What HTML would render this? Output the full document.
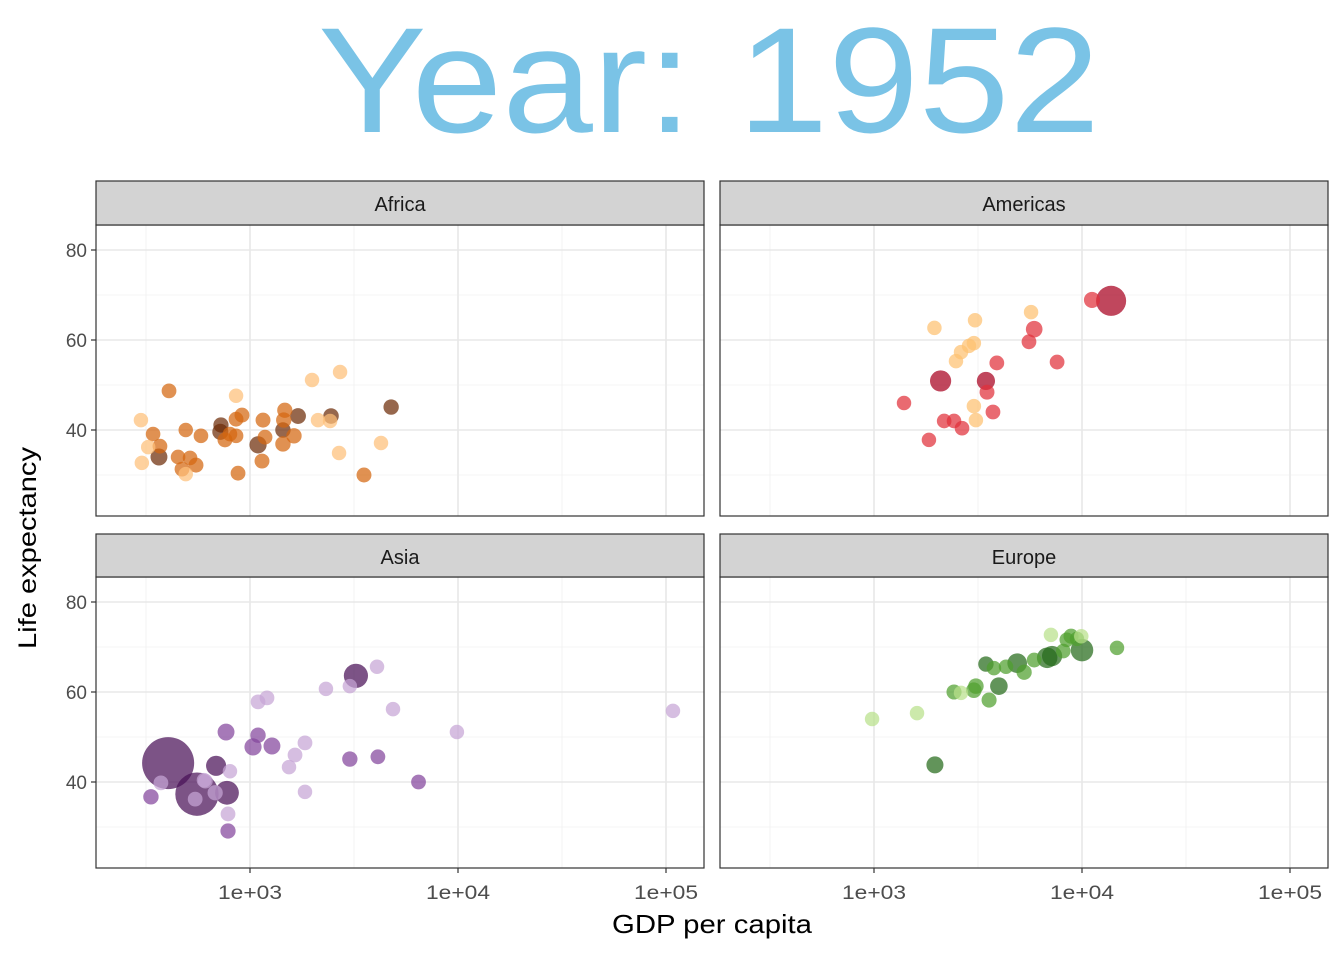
<!DOCTYPE html>
<html><head><meta charset="utf-8"><style>
body{margin:0;background:#fff;}
svg{display:block;font-family:"Liberation Sans",Arial,sans-serif;}
</style></head><body>
<svg id="chart" width="1344" height="960" xmlns="http://www.w3.org/2000/svg">
<text x="709" y="132" text-anchor="middle" font-size="150" textLength="782" lengthAdjust="spacingAndGlyphs" fill="#7ac3e6">Year: 1952</text>
<text x="712" y="933" text-anchor="middle" font-size="26" textLength="200" lengthAdjust="spacingAndGlyphs" fill="#000">GDP per capita</text>
<text transform="translate(36,548) rotate(-90)" text-anchor="middle" font-size="25" textLength="202" lengthAdjust="spacingAndGlyphs" fill="#000">Life expectancy</text>
</svg>
<script>
const xTicks=[1e3,1e4,1e5];
const xTickLabels=["1e+03","1e+04","1e+05"];
const yTicks=[40,60,80];
const yTickLabels=["40","60","80"];
// Africa
const afGdp=[299,342,324,302,369,365,408,451,471,491,515,491,550,581,725,758,720,801,857,915,857,876,857,1093,1155,1142,1181,1440,1453,1470,1440,1702,1627,1987,2123,2452,2427,2710,2680,3532,4264,4770];
const afLife=[42.2,39.1,36.2,32.7,36.4,34.0,48.7,34.0,31.3,40,33.8,30.2,32.2,38.7,41.1,37.8,39.6,39.1,42.4,43.3,47.6,30.4,38.7,36.7,42.2,33.1,38.4,40,42.2,44.4,36.9,43.1,38.7,51.1,42.2,43.1,42,52.9,34.9,30,37.1,45.1];
const afPop=[3,4,3,3,5,20,5,4,5,3,4,3,6,4,8,6,14,4,5,6,3,5,4,22,6,6,5,9,9,8,9,12,9,3,3,10,3,3,3,6,3,9];
const afShade=[0,1,0,0,1,2,1,1,1,1,1,0,1,1,2,1,2,1,1,1,0,1,1,2,1,1,1,2,1,1,1,2,1,0,0,2,0,0,0,1,0,2];
// Americas
const amGdp=[1394,1837,1952,2090,2174,2425,2478,2620,2650,2862,3021,3060,3021,3090,3452,3494,3732,3895,5560,5690,5890,7590,11170,13800];
const amLife=[46,37.8,62.7,50.9,42,42,55.3,57.3,40.4,58.7,59.3,64.4,45.3,42.2,50.9,48.4,44,54.9,59.6,66.2,62.4,55.1,68.9,68.7];
const amPop=[3,3,3,56,4,4,3,3,4,3,3,3,3,3,30,6,5,5,5,3,18,5,14,157];
const amShade=[1,1,0,2,1,1,0,0,1,0,0,0,0,0,2,1,1,1,1,0,1,1,1,2];
// Asia
const asGdp=[334,373,404,556,545,601,610,687,680,767,775,784,784,801,1034,1093,1093,1207,1275,1540,1646,1838,1838,2318,3020,3020,3230,4080,4120,4870,6460,9880,108000];
const asLife=[36.7,39.8,44.2,37.3,36.2,40.4,40.2,43.6,37.6,51.1,37.6,32.9,29.1,42.4,47.8,50.4,57.8,58.7,48,43.3,46,48.7,37.8,60.7,61.3,45.1,63.6,65.6,45.6,56.2,40,51.1,55.8];
const asPop=[9,5,556,372,5,4,5,46,8,20,82,5,8,3,22,9,5,5,20,3,5,5,3,3,3,9,86,3,5,3,5,3,3];
const asShade=[1,0,2,2,0,0,0,2,0,1,2,0,1,0,1,1,0,0,1,0,0,0,0,0,0,1,2,0,1,0,1,0,0];
// Europe
const euGdp=[979,1610,1963,2425,2620,3020,3090,3575,3452,3773,3985,4312,4880,5270,5890,6800,7090,7180,8130,8450,8860,9460,9920,10000,14730];
const euLife=[54,55.3,43.8,60,59.8,60.4,61.3,58.2,66.2,65.3,61.3,65.6,66.4,64.4,67.1,67.6,72.7,68,69.1,71.6,72.4,71.8,72.4,69.3,69.8];
const euPop=[3,3,21,7,3,10,10,7,9,3,25,3,42,8,5,50,3,47,4,4,7,3,3,69,3];
const euShade=[0,0,2,1,0,1,1,1,2,1,2,1,2,1,1,2,0,2,1,1,1,1,0,2,1];

const palettes={africa:["#fdbf78","#d4670f","#6e2c08"],americas:["#fdc070","#e0303a","#a8001e"],asia:["#c6a5d6","#84459c","#4a1158"],europe:["#b9e08a","#4f9f2e","#256b1b"]};
const NS="http://www.w3.org/2000/svg";
const svg=document.getElementById('chart');
function mk(tag,attrs,parent){const e=document.createElementNS(NS,tag);for(const k in attrs)e.setAttribute(k,attrs[k]);(parent||svg).appendChild(e);return e;}
const panels=[
 {name:"Africa",key:"africa",x0:96,x1:704,st:181,top:225,bot:516,gdp:afGdp,life:afLife,pop:afPop,shade:afShade,left:true,bottom:false},
 {name:"Americas",key:"americas",x0:720,x1:1328,st:181,top:225,bot:516,gdp:amGdp,life:amLife,pop:amPop,shade:amShade,left:false,bottom:false},
 {name:"Asia",key:"asia",x0:96,x1:704,st:534,top:577,bot:868,gdp:asGdp,life:asLife,pop:asPop,shade:asShade,left:true,bottom:true},
 {name:"Europe",key:"europe",x0:720,x1:1328,st:534,top:577,bot:868,gdp:euGdp,life:euLife,pop:euPop,shade:euShade,left:false,bottom:true}];
panels.forEach(p=>{
 const g=mk('g',{});
 
 
 const xs=v=>p.x0+154+(Math.log10(v)-3)*208;
 const ys=v=>p.top+25+(80-v)*4.5;
 for(let l=2.5;l<=5.5;l+=1){const x=p.x0+154+(l-3)*208;if(x>p.x0&&x<p.x1)mk('line',{x1:x,x2:x,y1:p.top,y2:p.bot,stroke:'#f0f0f0','stroke-width':0.8},g);}
 [30,50,70].forEach(v=>mk('line',{x1:p.x0,x2:p.x1,y1:ys(v),y2:ys(v),stroke:'#f0f0f0','stroke-width':0.8},g));
 xTicks.forEach((t,i)=>{const x=xs(t);mk('line',{x1:x,x2:x,y1:p.top,y2:p.bot,stroke:'#e8e8e8','stroke-width':1.6},g);
  if(p.bottom){mk('line',{x1:x,x2:x,y1:p.bot,y2:p.bot+5,stroke:'#333','stroke-width':1.2},g);
   const tx=mk('text',{x:x,y:p.bot+31,'text-anchor':'middle','font-size':19,textLength:64,lengthAdjust:'spacingAndGlyphs',fill:'#4d4d4d'},g);tx.textContent=xTickLabels[i];
   
   }});
 yTicks.forEach((t,i)=>{const y=ys(t);mk('line',{x1:p.x0,x2:p.x1,y1:y,y2:y,stroke:'#e8e8e8','stroke-width':1.6},g);
  if(p.left){mk('line',{x1:p.x0-5,x2:p.x0,y1:y,y2:y,stroke:'#333','stroke-width':1.2},g);
   const tx=mk('text',{x:p.x0-9,y:y+7,'text-anchor':'end','font-size':19,fill:'#4d4d4d'},g);tx.textContent=yTickLabels[i];
   
   }});
 const pal=palettes[p.key];
 const order=p.gdp.map((_,i)=>i).sort((a,b)=>p.pop[b]-p.pop[a]);
 order.forEach(i=>{const c=mk('circle',{cx:xs(p.gdp[i]),cy:ys(p.life[i]),r:Math.sqrt(49+1.13*p.pop[i]),fill:pal[p.shade[i]],'fill-opacity':0.72},g);
  
  });
 mk('rect',{x:p.x0,y:p.top,width:p.x1-p.x0,height:p.bot-p.top,fill:'none',stroke:'#333','stroke-width':1.2},g);
 const s=mk('rect',{x:p.x0,y:p.st,width:p.x1-p.x0,height:p.top-p.st,fill:'#d3d3d3',stroke:'#333','stroke-width':1.2},g);
 
 
 const st=mk('text',{x:(p.x0+p.x1)/2,y:p.st+30,'text-anchor':'middle','font-size':20,fill:'#1a1a1a'},g);st.textContent=p.name;
 
 
});
</script>
</body></html>
